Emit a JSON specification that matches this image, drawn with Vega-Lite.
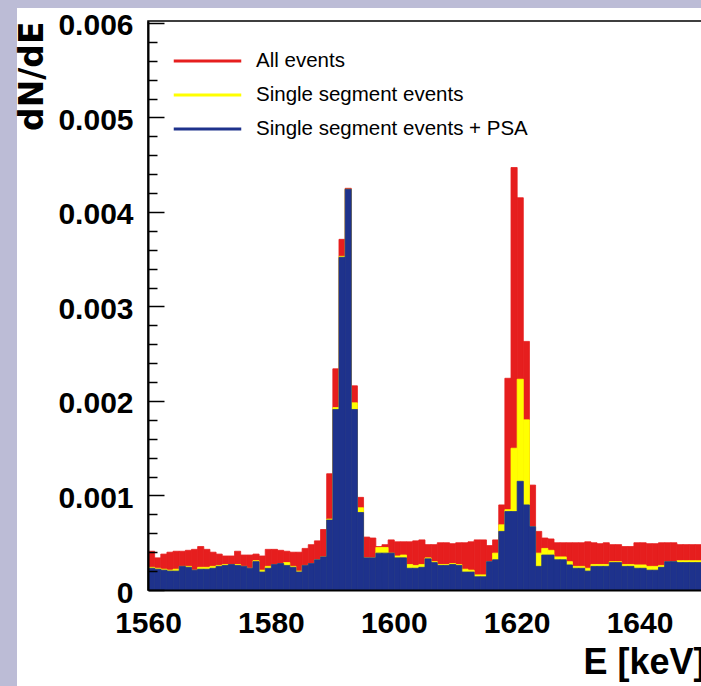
{
  "$schema": "https://vega.github.io/schema/vega-lite/v6.json",
  "background": "white",
  "padding": 0,
  "spacing": 0,
  "bounds": "flush",
  "hconcat": [
    {
      "width": 17,
      "height": 686,
      "data": {"values": []},
      "mark": "point",
      "view": {"fill": "#bcbcd6", "stroke": null}
    },
    {
      "spacing": 13,
      "bounds": "flush",
      "vconcat": [
        {
          "width": 687,
          "height": 8,
          "data": {"values": []},
          "mark": "point",
          "view": {"fill": "#bcbcd6", "stroke": null}
        },
        {
          "spacing": 130,
          "bounds": "flush",
          "hconcat": [
            {
              "width": 1,
              "height": 569,
              "data": {"values": []},
              "mark": "point",
              "view": {"stroke": null}
            },
            {
              "width": 556,
              "height": 569,
              "view": {"stroke": "black", "strokeWidth": 1.5, "fill": "white"},
              "data": {"values": [
                {"E":1560,"all":0.00041,"single":0.00024,"singlepsa":0.00023},
                {"E":1561,"all":0.00034,"single":0.00023,"singlepsa":0.00022},
                {"E":1562,"all":0.00038,"single":0.00022,"singlepsa":0.00021},
                {"E":1563,"all":0.00040,"single":0.00021,"singlepsa":0.00020},
                {"E":1564,"all":0.00041,"single":0.00022,"singlepsa":0.00020},
                {"E":1565,"all":0.00041,"single":0.00025,"singlepsa":0.00025},
                {"E":1566,"all":0.00042,"single":0.00025,"singlepsa":0.00024},
                {"E":1567,"all":0.00043,"single":0.00021,"singlepsa":0.00021},
                {"E":1568,"all":0.00046,"single":0.00024,"singlepsa":0.00022},
                {"E":1569,"all":0.00043,"single":0.00024,"singlepsa":0.00022},
                {"E":1570,"all":0.00040,"single":0.00025,"singlepsa":0.00023},
                {"E":1571,"all":0.00038,"single":0.00026,"singlepsa":0.00025},
                {"E":1572,"all":0.00036,"single":0.00027,"singlepsa":0.00026},
                {"E":1573,"all":0.00036,"single":0.00027,"singlepsa":0.00027},
                {"E":1574,"all":0.00041,"single":0.00027,"singlepsa":0.00026},
                {"E":1575,"all":0.00037,"single":0.00025,"singlepsa":0.00025},
                {"E":1576,"all":0.00037,"single":0.00023,"singlepsa":0.00023},
                {"E":1577,"all":0.00038,"single":0.00031,"singlepsa":0.00030},
                {"E":1578,"all":0.00036,"single":0.00021,"singlepsa":0.00019},
                {"E":1579,"all":0.00043,"single":0.00025,"singlepsa":0.00023},
                {"E":1580,"all":0.00043,"single":0.00027,"singlepsa":0.00027},
                {"E":1581,"all":0.00042,"single":0.00028,"singlepsa":0.00028},
                {"E":1582,"all":0.00041,"single":0.00029,"singlepsa":0.00026},
                {"E":1583,"all":0.00040,"single":0.00025,"singlepsa":0.00024},
                {"E":1584,"all":0.00040,"single":0.00020,"singlepsa":0.00019},
                {"E":1585,"all":0.00044,"single":0.00026,"singlepsa":0.00026},
                {"E":1586,"all":0.00048,"single":0.00028,"singlepsa":0.00028},
                {"E":1587,"all":0.00052,"single":0.00032,"singlepsa":0.00032},
                {"E":1588,"all":0.00064,"single":0.00035,"singlepsa":0.00035},
                {"E":1589,"all":0.00123,"single":0.00075,"singlepsa":0.00074},
                {"E":1590,"all":0.00234,"single":0.00193,"singlepsa":0.00191},
                {"E":1591,"all":0.00371,"single":0.00353,"singlepsa":0.00352},
                {"E":1592,"all":0.00425,"single":0.00424,"singlepsa":0.00424},
                {"E":1593,"all":0.00216,"single":0.00198,"singlepsa":0.00191},
                {"E":1594,"all":0.00098,"single":0.00087,"singlepsa":0.00082},
                {"E":1595,"all":0.00056,"single":0.00034,"singlepsa":0.00034},
                {"E":1596,"all":0.00055,"single":0.00034,"singlepsa":0.00034},
                {"E":1597,"all":0.00046,"single":0.00045,"singlepsa":0.00039},
                {"E":1598,"all":0.00048,"single":0.00045,"singlepsa":0.00039},
                {"E":1599,"all":0.00053,"single":0.00039,"singlepsa":0.00039},
                {"E":1600,"all":0.00051,"single":0.00036,"singlepsa":0.00034},
                {"E":1601,"all":0.00051,"single":0.00037,"singlepsa":0.00034},
                {"E":1602,"all":0.00051,"single":0.00027,"singlepsa":0.00023},
                {"E":1603,"all":0.00052,"single":0.00026,"singlepsa":0.00023},
                {"E":1604,"all":0.00053,"single":0.00027,"singlepsa":0.00024},
                {"E":1605,"all":0.00048,"single":0.00034,"singlepsa":0.00033},
                {"E":1606,"all":0.00048,"single":0.00030,"singlepsa":0.00029},
                {"E":1607,"all":0.00050,"single":0.00027,"singlepsa":0.00026},
                {"E":1608,"all":0.00050,"single":0.00027,"singlepsa":0.00026},
                {"E":1609,"all":0.00049,"single":0.00028,"singlepsa":0.00027},
                {"E":1610,"all":0.00050,"single":0.00027,"singlepsa":0.00026},
                {"E":1611,"all":0.00050,"single":0.00022,"singlepsa":0.00019},
                {"E":1612,"all":0.00051,"single":0.00021,"singlepsa":0.00019},
                {"E":1613,"all":0.00053,"single":0.00016,"singlepsa":0.00014},
                {"E":1614,"all":0.00053,"single":0.00016,"singlepsa":0.00014},
                {"E":1615,"all":0.00047,"single":0.00030,"singlepsa":0.00030},
                {"E":1616,"all":0.00053,"single":0.00039,"singlepsa":0.00032},
                {"E":1617,"all":0.00090,"single":0.00069,"singlepsa":0.00062},
                {"E":1618,"all":0.00224,"single":0.00085,"singlepsa":0.00083},
                {"E":1619,"all":0.00447,"single":0.00150,"singlepsa":0.00083},
                {"E":1620,"all":0.00415,"single":0.00223,"singlepsa":0.00115},
                {"E":1621,"all":0.00263,"single":0.00180,"singlepsa":0.00090},
                {"E":1622,"all":0.00111,"single":0.00067,"singlepsa":0.00067},
                {"E":1623,"all":0.00062,"single":0.00039,"singlepsa":0.00025},
                {"E":1624,"all":0.00055,"single":0.00044,"singlepsa":0.00037},
                {"E":1625,"all":0.00054,"single":0.00042,"singlepsa":0.00037},
                {"E":1626,"all":0.00050,"single":0.00035,"singlepsa":0.00032},
                {"E":1627,"all":0.00050,"single":0.00035,"singlepsa":0.00032},
                {"E":1628,"all":0.00050,"single":0.00030,"singlepsa":0.000265},
                {"E":1629,"all":0.00050,"single":0.00025,"singlepsa":0.00023},
                {"E":1630,"all":0.00050,"single":0.00025,"singlepsa":0.00023},
                {"E":1631,"all":0.00051,"single":0.00023,"singlepsa":0.00020},
                {"E":1632,"all":0.00050,"single":0.00027,"singlepsa":0.00025},
                {"E":1633,"all":0.00049,"single":0.00027,"singlepsa":0.00025},
                {"E":1634,"all":0.00050,"single":0.00027,"singlepsa":0.00025},
                {"E":1635,"all":0.00048,"single":0.00030,"singlepsa":0.00029},
                {"E":1636,"all":0.00048,"single":0.00030,"singlepsa":0.00029},
                {"E":1637,"all":0.00046,"single":0.00027,"singlepsa":0.00025},
                {"E":1638,"all":0.00046,"single":0.00027,"singlepsa":0.00025},
                {"E":1639,"all":0.00050,"single":0.000265,"singlepsa":0.00023},
                {"E":1640,"all":0.00050,"single":0.000265,"singlepsa":0.00023},
                {"E":1641,"all":0.00049,"single":0.00025,"singlepsa":0.00021},
                {"E":1642,"all":0.00049,"single":0.00025,"singlepsa":0.00021},
                {"E":1643,"all":0.00050,"single":0.00026,"singlepsa":0.00024},
                {"E":1644,"all":0.00050,"single":0.00030,"singlepsa":0.00030},
                {"E":1645,"all":0.00050,"single":0.00030,"singlepsa":0.00030},
                {"E":1646,"all":0.00048,"single":0.00031,"singlepsa":0.00029},
                {"E":1647,"all":0.00048,"single":0.00031,"singlepsa":0.00029},
                {"E":1648,"all":0.00048,"single":0.00031,"singlepsa":0.00029},
                {"E":1649,"all":0.00048,"single":0.00031,"singlepsa":0.00029}
              ]},
              "transform": [{"fold": ["all", "single", "singlepsa"], "as": ["series", "v"]}],
              "resolve": {"axis": {"y": "independent"}},
              "layer": [
                {
                  "mark": {"type": "bar", "binSpacing": 0, "strokeWidth": 0.8, "clip": true},
                  "encoding": {
                    "x": {
                      "field": "E", "type": "quantitative",
                      "bin": {"step": 1, "extent": [1560, 1650]},
                      "scale": {"domain": [1560, 1650.49], "nice": false, "zero": false},
                      "axis": {
                        "title": "E [keV]",
                        "values": [1560, 1580, 1600, 1620, 1640],
                        "format": "d",
                        "ticks": false, "tickSize": 0,
                        "labelFlush": false, "labelOverlap": false,
                        "labelPadding": 18,
                        "labelFont": "Liberation Sans", "labelFontWeight": "bold", "labelFontSize": 30, "labelColor": "black",
                        "domainColor": "black", "domainWidth": 2,
                        "grid": false, "zindex": 1,
                        "titleFont": "Liberation Sans", "titleFontWeight": "bold", "titleFontSize": 36, "titleColor": "black",
                        "titleX": 435, "titleY": 83, "titleAlign": "left", "titleBaseline": "alphabetic"
                      }
                    },
                    "y": {
                      "field": "v", "type": "quantitative", "stack": null,
                      "scale": {"domain": [0, 0.00602], "nice": false},
                      "axis": {
                        "title": "dN/dE",
                        "orient": "left",
                        "values": [0, 0.001, 0.002, 0.003, 0.004, 0.005, 0.006],
                        "labelExpr": "datum.value == 0 ? '0' : format(datum.value, '.3f')",
                        "labelOverlap": false,
                        "tickSize": -16,
                        "tickColor": "black", "tickWidth": 1.5,
                        "labelPadding": 31, "labelOffset": 3,
                        "labelFont": "Liberation Sans", "labelFontWeight": "bold", "labelFontSize": 30, "labelColor": "black",
                        "domainColor": "black", "domainWidth": 2,
                        "grid": false, "zindex": 1,
                        "titleFont": "DejaVu Sans", "titleFontWeight": "bold", "titleFontSize": 33, "titleColor": "black",
                        "titleAngle": -90, "titleX": -106, "titleY": 0, "titleAlign": "right", "titleBaseline": "alphabetic"
                      }
                    },
                    "order": {"field": "series", "sort": "ascending"},
                    "fill": {
                      "field": "series", "type": "nominal",
                      "scale": {"domain": ["all", "single", "singlepsa"], "range": ["#e61e1e", "#ffff00", "#1e328c"]},
                      "legend": {
                        "orient": "none", "legendX": 191, "legendY": 44.5, "title": null, "padding": 0,
                        "symbolType": "M-2.25,0H2.25", "symbolSize": 900, "symbolStrokeWidth": 3,
                        "labelFont": "Liberation Sans", "labelFontSize": 20.5, "labelColor": "black",
                        "labelOffset": 32, "rowPadding": 7, "labelLimit": 400,
                        "labelExpr": "datum.label == 'all' ? 'All events' : datum.label == 'single' ? 'Single segment events' : 'Single segment events + PSA'"
                      }
                    },
                    "stroke": {
                      "field": "series", "type": "nominal",
                      "scale": {"domain": ["all", "single", "singlepsa"], "range": ["#e61e1e", "#ffff00", "#1e328c"]},
                      "legend": {
                        "orient": "none", "legendX": 191, "legendY": 44.5, "title": null, "padding": 0,
                        "symbolType": "M-2.25,0H2.25", "symbolSize": 900, "symbolStrokeWidth": 3,
                        "labelFont": "Liberation Sans", "labelFontSize": 20.5, "labelColor": "black",
                        "labelOffset": 32, "rowPadding": 7, "labelLimit": 400,
                        "labelExpr": "datum.label == 'all' ? 'All events' : datum.label == 'single' ? 'Single segment events' : 'Single segment events + PSA'"
                      }
                    }
                  }
                },
                {
                  "mark": {"type": "rule", "opacity": 0},
                  "encoding": {
                    "y": {
                      "field": "v", "type": "quantitative",
                      "axis": {
                        "orient": "left", "title": null,
                        "values": [0.0002, 0.0004, 0.0006, 0.0008, 0.0012, 0.0014, 0.0016, 0.0018, 0.0022, 0.0024, 0.0026, 0.0028, 0.0032, 0.0034, 0.0036, 0.0038, 0.0042, 0.0044, 0.0046, 0.0048, 0.0052, 0.0054, 0.0056, 0.0058],
                        "labels": false, "domain": false, "grid": false,
                        "tickSize": -9, "tickColor": "black", "tickWidth": 1.5,
                        "zindex": 1
                      }
                    }
                  }
                }
              ]
            }
          ]
        }
      ]
    }
  ],
  "config": {
    "view": {"stroke": null},
    "font": "Liberation Sans"
  }
}
